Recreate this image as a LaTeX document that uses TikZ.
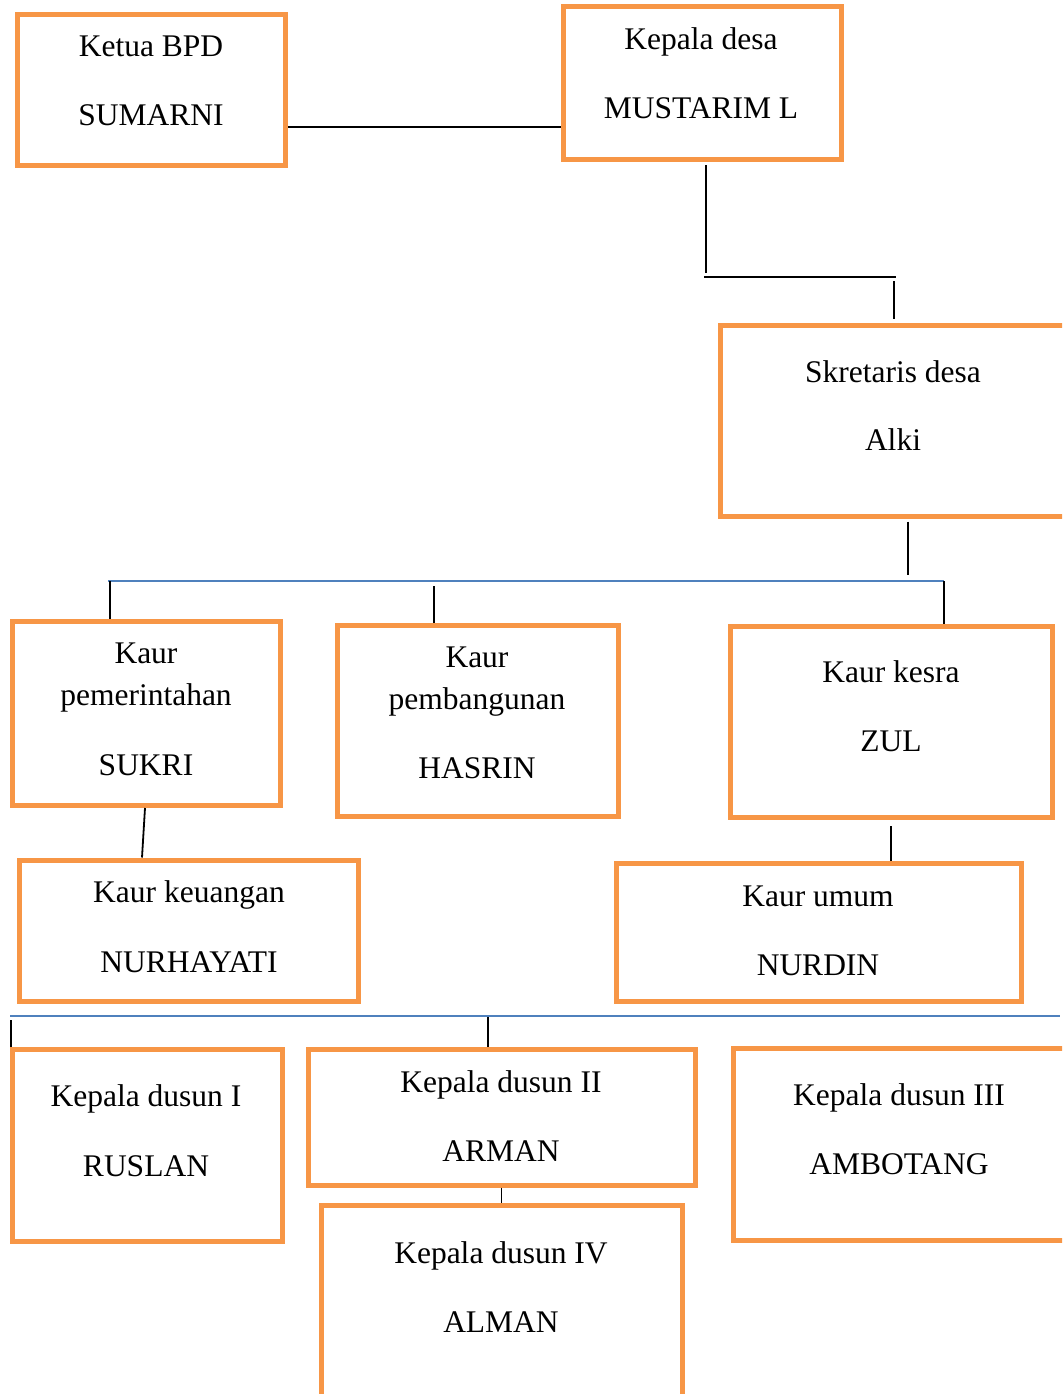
\documentclass[tikz,border=0pt]{standalone}
\usepackage{fontspec}
\setmainfont{Liberation Serif}
\usepackage{tikz}

\definecolor{oranye}{HTML}{F79646}
\definecolor{biru}{HTML}{4F81BD}
\tikzset{
  kotak/.style={draw=oranye,line width=2.5pt,inner sep=0pt,fill=white},
  teks/.style={anchor=base,inner sep=0pt,font=\fontsize{15.75}{19}\selectfont},
  garis/.style={line width=0.9pt,black},
  garisbiru/.style={line width=1.1pt,biru}
}

\begin{document}
\begin{tikzpicture}[x=0.5pt,y=-0.5pt]
        \useasboundingbox (0,0) rectangle (1062,1394);
        \clip (0,0) rectangle (1062,1394);
        % kotak
        \node[kotak,minimum width=134pt,minimum height=75.75pt] (bpd) at (151.5,89.75) {};
        \node[kotak,minimum width=139pt,minimum height=76.5pt] (kades) at (702,83) {};
        \node[kotak,minimum width=180pt,minimum height=95.5pt] (sekdes) at (900,420.5) {};
        \node[kotak,minimum width=134.25pt,minimum height=92.25pt] (pem) at (146.25,713.25) {};
        \node[kotak,minimum width=140.5pt,minimum height=95.75pt] (pemb) at (477.5,720.75) {};
        \node[kotak,minimum width=161pt,minimum height=95.5pt] (kesra) at (891,721.5) {};
        \node[kotak,minimum width=169.5pt,minimum height=70.5pt] (keu) at (189,930.5) {};
        \node[kotak,minimum width=202.25pt,minimum height=68.75pt] (umum) at (818.75,932.25) {};
        \node[kotak,minimum width=135pt,minimum height=96pt] (dusA) at (147,1145.5) {};
        \node[kotak,minimum width=193.5pt,minimum height=67.75pt] (dusB) at (501.5,1117.25) {};
        \node[kotak,minimum width=173.25pt,minimum height=95.75pt] (dusC) at (906.75,1144.25) {};
        \node[kotak,minimum width=180.5pt,minimum height=107.25pt] (dusD) at (502,1312.75) {};

        % teks
        \node[teks] (bpd-a) at (151,56) {Ketua BPD};
        \node[teks] (bpd-b) at (151,125) {SUMARNI};
        \node[teks] (kades-a) at (701,49) {Kepala desa};
        \node[teks] (kades-b) at (701,118) {MUSTARIM L};
        \node[teks] (sekdes-a) at (893,382) {Skretaris desa};
        \node[teks] (sekdes-b) at (893,450) {Alki};
        \node[teks] (pem-a) at (146,663) {Kaur};
        \node[teks] (pem-b) at (146,705) {pemerintahan};
        \node[teks] (pem-c) at (146,775) {SUKRI};
        \node[teks] (pemb-a) at (477,667) {Kaur};
        \node[teks] (pemb-b) at (477,709) {pembangunan};
        \node[teks] (pemb-c) at (477,778) {HASRIN};
        \node[teks] (kesra-a) at (891,682) {Kaur kesra};
        \node[teks] (kesra-b) at (891,751) {ZUL};
        \node[teks] (keu-a) at (189,902) {Kaur keuangan};
        \node[teks] (keu-b) at (189,972) {NURHAYATI};
        \node[teks] (umum-a) at (818,906) {Kaur umum};
        \node[teks] (umum-b) at (818,975) {NURDIN};
        \node[teks] (dusA-a) at (146,1106) {Kepala dusun I};
        \node[teks] (dusA-b) at (146,1176) {RUSLAN};
        \node[teks] (dusB-a) at (501,1092) {Kepala dusun II};
        \node[teks] (dusB-b) at (501,1161) {ARMAN};
        \node[teks] (dusC-a) at (899,1105) {Kepala dusun III};
        \node[teks] (dusC-b) at (899,1174) {AMBOTANG};
        \node[teks] (dusD-a) at (501,1263) {Kepala dusun IV};
        \node[teks] (dusD-b) at (501,1332) {ALMAN};

        % titik sambung
        \coordinate (J1) at (706,273);
        \coordinate (J2) at (704,277);
        \coordinate (J3) at (896,277);
        \coordinate (J4) at (894,281);
        \coordinate (J4b) at (894,319);
        \coordinate (J5) at (908,575);
        \coordinate (B1) at (108,581);
        \coordinate (B2) at (944,581);
        \coordinate (J0) at (110,581);
        \coordinate (J6) at (434,586);
        \coordinate (J7) at (891,826);
        \coordinate (C1) at (10,1016);
        \coordinate (C2) at (1060,1016);
        \coordinate (J8) at (11,1020);
        \coordinate (J9) at (488,1017);

        % garis
        \draw[garis] (bpd.east |- 0,127) -- (kades.west |- 0,127);
        \draw[garis] ([yshift=-1.5pt]kades.south -| J1) -- (J1);
        \draw[garis,line width=1.4pt] (J2) -- (J3);
        \draw[garis] (J4) -- (J4b);
        \draw[garis] ([yshift=-1.5pt]sekdes.south -| J5) -- (J5);
        \draw[garisbiru] (B1) -- (B2);
        \draw[garis] (J0) -- (pem.north -| J0);
        \draw[garis] (J6) -- (pemb.north -| J6);
        \draw[garis] (B2) -- (kesra.north -| B2);
        \draw[garis] (pem.south -| 145,0) -- (keu.north -| 142,0);
        \draw[garis] (J7) -- (umum.north -| J7);
        \draw[garisbiru] (C1) -- (C2);
        \draw[garis] (J8) -- (dusA.north -| J8);
        \draw[garis] (J9) -- (dusB.north -| J9);
        \draw[garis] (dusB.south) -- (dusD.north -| dusB.south);
    \end{tikzpicture}
\end{document}
